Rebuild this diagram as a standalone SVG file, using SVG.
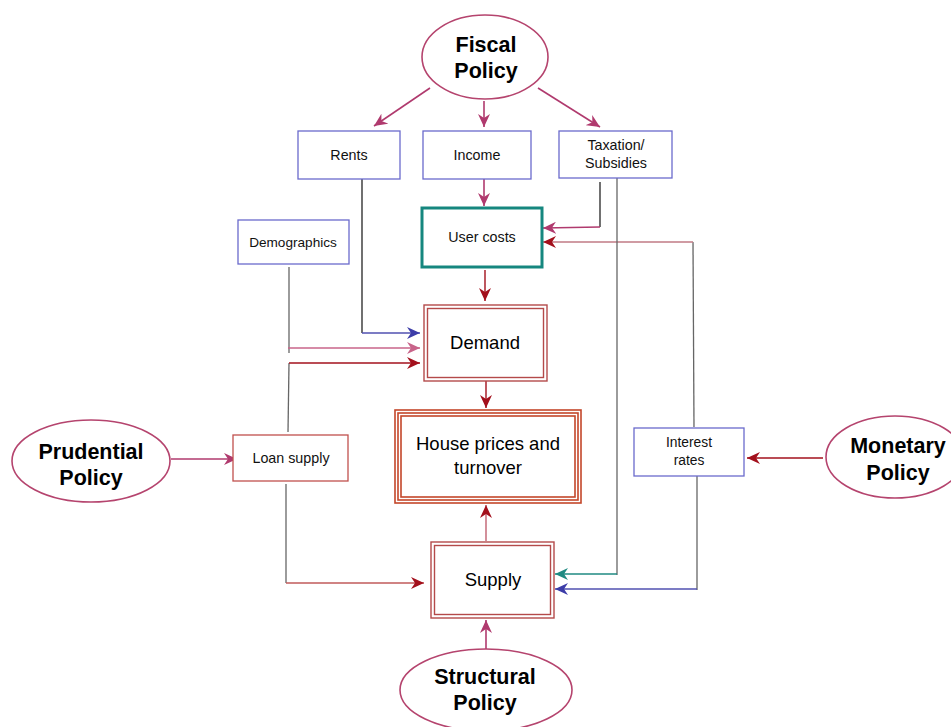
<svg xmlns="http://www.w3.org/2000/svg" width="951" height="727" viewBox="0 0 951 727">
<defs>
<style>
.pol{fill:#fff;stroke:#b5446e;stroke-width:1.6}
.ptxt{font-family:"Liberation Sans",Arial,sans-serif;font-weight:bold;font-size:21.5px;fill:#000;text-anchor:middle}
.bbox{fill:#fff;stroke:#6a6acc;stroke-width:1.3}
.rbox{fill:#fff;stroke:#c0504d;stroke-width:1.3}
.stxt{font-family:"Liberation Sans",Arial,sans-serif;font-size:14.3px;fill:#111;text-anchor:middle}
.btxt{font-family:"Liberation Sans",Arial,sans-serif;font-size:18.5px;fill:#000;text-anchor:middle}
.dbl{fill:none;stroke:#b44a4a;stroke-width:1.4}
.tri{fill:none;stroke:#c4462a;stroke-width:1.6}
.gl{stroke:#666;stroke-width:1.3;fill:none}
.kl{stroke:#111;stroke-width:1.2;fill:none}
</style>
<marker id="aMag" markerUnits="userSpaceOnUse" markerWidth="14" markerHeight="12" refX="13" refY="6" orient="auto"><path d="M0,0 L13,6 L0,12 L4,6 z" fill="#b03a6e"/></marker>
<marker id="aPink" markerUnits="userSpaceOnUse" markerWidth="14" markerHeight="12" refX="13" refY="6" orient="auto"><path d="M0,0 L13,6 L0,12 L4,6 z" fill="#c8648a"/></marker>
<marker id="aRed" markerUnits="userSpaceOnUse" markerWidth="14" markerHeight="12" refX="13" refY="6" orient="auto"><path d="M0,0 L13,6 L0,12 L4,6 z" fill="#a3101c"/></marker>
<marker id="aBlue" markerUnits="userSpaceOnUse" markerWidth="14" markerHeight="12" refX="13" refY="6" orient="auto"><path d="M0,0 L13,6 L0,12 L4,6 z" fill="#3c3ca8"/></marker>
<marker id="aTeal" markerUnits="userSpaceOnUse" markerWidth="14" markerHeight="12" refX="13" refY="6" orient="auto"><path d="M0,0 L13,6 L0,12 L4,6 z" fill="#1f8a82"/></marker>
</defs>
<rect width="951" height="727" fill="#fff"/>

<g id="connectors">
  <!-- Fiscal to Rents/Income/Taxation -->
  <line x1="430" y1="88" x2="374" y2="126" stroke="#b03a6e" stroke-width="1.6" marker-end="url(#aMag)"/>
  <line x1="484" y1="101" x2="484" y2="127" stroke="#b03a6e" stroke-width="1.6" marker-end="url(#aMag)"/>
  <line x1="538" y1="88" x2="600" y2="127" stroke="#b03a6e" stroke-width="1.6" marker-end="url(#aMag)"/>
  <!-- Income to User costs -->
  <line x1="484" y1="179" x2="484" y2="206" stroke="#b03a6e" stroke-width="1.6" marker-end="url(#aMag)"/>
  <!-- Taxation to User costs -->
  <line class="kl" x1="600" y1="182" x2="600" y2="227"/>
  <line x1="600" y1="227" x2="543" y2="228" stroke="#b03a6e" stroke-width="1.6" marker-end="url(#aMag)"/>
  <!-- Interest rates to User costs -->
  <line class="gl" x1="693" y1="242" x2="694" y2="427"/>
  <line x1="693" y1="242" x2="543" y2="242" stroke="#c07a84" stroke-width="1.6" marker-end="url(#aRed)"/>
  <!-- Taxation to Supply (teal) -->
  <line class="gl" x1="617" y1="178" x2="617" y2="575"/>
  <line x1="617" y1="574" x2="555" y2="574" stroke="#1f8a82" stroke-width="1.4" marker-end="url(#aTeal)"/>
  <!-- Interest rates to Supply (blue) -->
  <line class="gl" x1="697" y1="476" x2="697" y2="590"/>
  <line x1="697" y1="589" x2="555" y2="589" stroke="#5050b0" stroke-width="1.6" marker-end="url(#aBlue)"/>
  <!-- Rents to Demand -->
  <line class="kl" x1="362" y1="179" x2="362" y2="333"/>
  <line x1="362" y1="333" x2="420" y2="333" stroke="#5050b0" stroke-width="1.6" marker-end="url(#aBlue)"/>
  <!-- Demographics to Demand -->
  <line class="gl" x1="289" y1="267" x2="289" y2="353"/>
  <line x1="288" y1="348" x2="420" y2="348" stroke="#c8648a" stroke-width="1.6" marker-end="url(#aPink)"/>
  <!-- Loan supply to Demand -->
  <line class="gl" x1="289" y1="363" x2="288" y2="432" stroke="#999"/>
  <line x1="289" y1="363" x2="420" y2="363" stroke="#a3101c" stroke-width="1.6" marker-end="url(#aRed)"/>
  <!-- User costs to Demand -->
  <line x1="485" y1="270" x2="485" y2="301" stroke="#a3101c" stroke-width="1.4" marker-end="url(#aRed)"/>
  <!-- Demand to House prices -->
  <line x1="486" y1="381" x2="486" y2="408" stroke="#a3101c" stroke-width="1.4" marker-end="url(#aRed)"/>
  <!-- Supply to House prices -->
  <line x1="486" y1="541" x2="486" y2="505" stroke="#c06070" stroke-width="1.4" marker-end="url(#aRed)"/>
  <!-- Loan supply to Supply -->
  <line class="gl" x1="286" y1="484" x2="286" y2="583" stroke="#888"/>
  <line x1="286" y1="583" x2="424" y2="583" stroke="#c05a5a" stroke-width="1.6" marker-end="url(#aRed)"/>
  <!-- Prudential to Loan supply -->
  <line x1="171" y1="459" x2="237" y2="459" stroke="#b03a6e" stroke-width="1.6" marker-end="url(#aMag)"/>
  <!-- Monetary to Interest rates -->
  <line x1="823" y1="458" x2="747" y2="458" stroke="#a3101c" stroke-width="1.6" marker-end="url(#aRed)"/>
  <!-- Structural to Supply -->
  <line x1="486" y1="649" x2="486" y2="620" stroke="#b03a6e" stroke-width="1.6" marker-end="url(#aMag)"/>
</g>

<g id="fiscal">
  <ellipse class="pol" cx="485" cy="57" rx="63" ry="42"/>
  <text class="ptxt" x="486" y="52">Fiscal</text>
  <text class="ptxt" x="486" y="78">Policy</text>
</g>
<g id="rents">
  <rect class="bbox" x="298" y="131" width="102" height="48"/>
  <text class="stxt" x="349" y="160">Rents</text>
</g>
<g id="income">
  <rect class="bbox" x="423" y="131" width="108" height="48"/>
  <text class="stxt" x="477" y="160">Income</text>
</g>
<g id="taxation">
  <rect class="bbox" x="559" y="131" width="113" height="47"/>
  <text class="stxt" x="616" y="150">Taxation/</text>
  <text class="stxt" x="616" y="168">Subsidies</text>
</g>
<g id="usercosts">
  <rect x="422" y="208" width="120" height="59" fill="#fff" stroke="#16877f" stroke-width="3"/>
  <text class="stxt" x="482" y="242">User costs</text>
</g>
<g id="demographics">
  <rect class="bbox" x="238" y="220" width="111" height="44"/>
  <text class="stxt" x="293" y="247" style="font-size:13.6px">Demographics</text>
</g>
<g id="demand">
  <rect class="dbl" x="424" y="305" width="123" height="76"/>
  <rect class="dbl" x="427.5" y="308.5" width="116" height="69"/>
  <text class="btxt" x="485" y="349">Demand</text>
</g>
<g id="houseprices">
  <rect class="tri" x="395" y="410" width="186" height="93"/>
  <rect class="tri" x="398" y="413" width="180" height="87"/>
  <rect class="tri" x="401" y="416" width="174" height="81"/>
  <text class="btxt" x="488" y="450">House prices and</text>
  <text class="btxt" x="488" y="474">turnover</text>
</g>
<g id="supply">
  <rect class="dbl" x="431" y="542" width="123" height="76"/>
  <rect class="dbl" x="434.5" y="545.5" width="116" height="69"/>
  <text class="btxt" x="493" y="586">Supply</text>
</g>
<g id="loansupply">
  <rect class="rbox" x="233" y="435" width="115" height="46"/>
  <text class="stxt" x="291" y="463">Loan supply</text>
</g>
<g id="interestrates">
  <rect class="bbox" x="634" y="428" width="110" height="48"/>
  <text class="stxt" x="689" y="447" style="font-size:13.8px">Interest</text>
  <text class="stxt" x="689" y="465" style="font-size:13.8px">rates</text>
</g>
<g id="prudential">
  <ellipse class="pol" cx="91" cy="461" rx="79" ry="41"/>
  <text class="ptxt" x="91" y="459">Prudential</text>
  <text class="ptxt" x="91" y="485">Policy</text>
</g>
<g id="monetary">
  <ellipse class="pol" cx="895" cy="457" rx="69" ry="41"/>
  <text class="ptxt" x="898" y="453">Monetary</text>
  <text class="ptxt" x="898" y="480">Policy</text>
</g>
<g id="structural">
  <ellipse class="pol" cx="486" cy="690" rx="86" ry="41"/>
  <text class="ptxt" x="485" y="684">Structural</text>
  <text class="ptxt" x="485" y="710">Policy</text>
</g>
</svg>
